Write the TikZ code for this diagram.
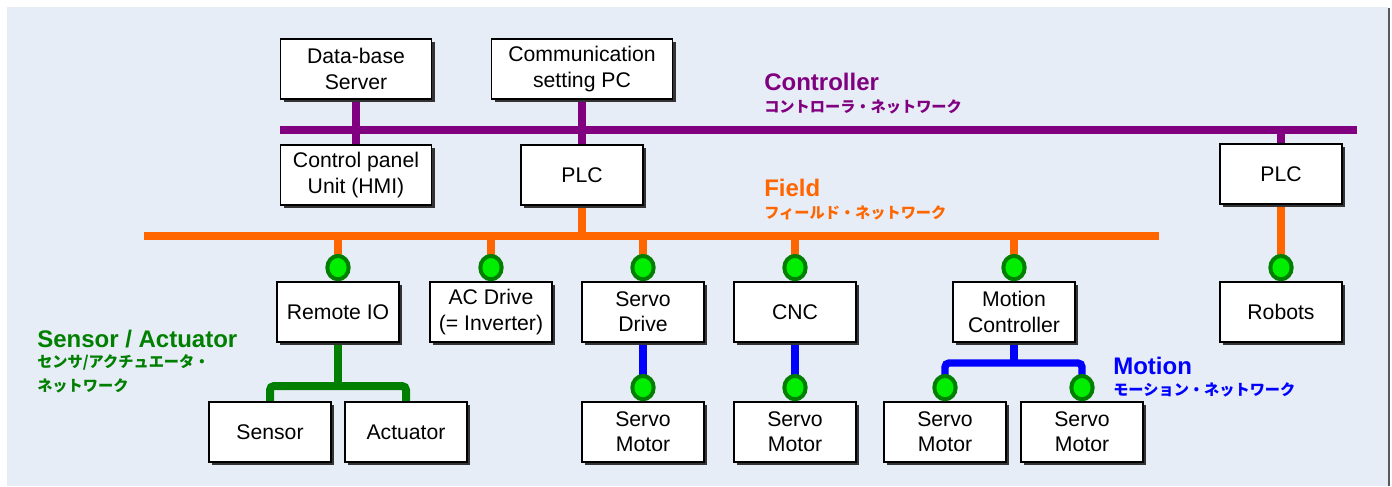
\documentclass[tikz,border=0pt]{standalone}
\usepackage{fontspec}
\setmainfont{Liberation Sans}
\newfontfamily\jpfont{Noto Sans CJK JP}
\usepackage{tikz}
\usetikzlibrary{
    shapes.geometric,
    positioning,
    shadows,
    backgrounds
}
\definecolor{panelbg}{HTML}{E6EDF7}
\definecolor{ctlcol}{HTML}{800080}
\definecolor{fldcol}{HTML}{FF6600}
\definecolor{sencol}{HTML}{007F00}
\definecolor{motcol}{HTML}{0000FF}
\definecolor{portcol}{HTML}{00EE00}
\tikzset{
    unit/.style = {
        rectangle,
        draw,
        line width=1.1pt,
        fill=white,
        minimum width=91.5pt,
        minimum height=45pt,
        inner sep=2pt,
        align=center,
        font=\fontsize{15.9pt}{19pt}\selectfont,
        drop shadow={shadow xshift=2.6pt, shadow yshift=-2.6pt, fill=black!80, opacity=1}
    },
    port/.style = {
        ellipse,
        draw=sencol,
        line width=3pt,
        fill=portcol,
        minimum width=16pt,
        minimum height=17.5pt,
        inner sep=0pt
    },
    netname/.style = {
        anchor=west,
        inner sep=0pt,
        font=\fontsize{18pt}{21pt}\selectfont\bfseries
    },
    netjp/.style = {
        anchor=west,
        inner sep=0pt,
        align=left,
        font=\fontsize{11.4pt}{18pt}\selectfont\jpfont\bfseries
    },
    ctlbus/.style = {draw=ctlcol, line width=6pt},
    ctllink/.style = {draw=ctlcol, line width=5.5pt},
    fldbus/.style = {draw=fldcol, line width=6pt},
    fldlink/.style = {draw=fldcol, line width=5.5pt},
    senlink/.style = {draw=sencol, line width=6pt},
    motlink/.style = {draw=motcol, line width=5.5pt}
}
\begin{document}
\begin{tikzpicture}[x=0.75pt, y=-0.75pt]
\useasboundingbox (0,0) rectangle (1392,486);
\begin{scope}[on background layer]
\fill[panelbg] (7,7) rectangle (1388,486);
\draw[black!65, line width=2pt] (1389,8) -- (1389,486);
\end{scope}

\node[unit, minimum width=113pt] (dbs) at (356,69) {Data-base\\Server};
\node[unit, minimum width=136pt] (cpc) at (582,69) {Communication\\setting PC};
\node[unit, minimum width=113pt] (hmi) at (356,175) {Control panel\\Unit (HMI)};
\node[unit] (plc) at (582,175) {PLC};
\node[unit] (plc-r) at (1281,174) {PLC};

\node[unit] (rio) at (338,312) {Remote IO};
\node[unit] (acd) at (491,312) {AC Drive\\(= Inverter)};
\node[unit] (sdr) at (643,312) {Servo\\Drive};
\node[unit] (cnc) at (795,312) {CNC};
\node[unit] (mct) at (1014,312) {Motion\\Controller};
\node[unit] (rob) at (1281,312) {Robots};

\node[unit] (sen) at (270,432) {Sensor};
\node[unit] (act) at (406,432) {Actuator};
\node[unit] (sm-a) at (643,432) {Servo\\Motor};
\node[unit] (sm-b) at (795,432) {Servo\\Motor};
\node[unit] (sm-c) at (945,432) {Servo\\Motor};
\node[unit] (sm-d) at (1082,432) {Servo\\Motor};

\foreach \u in {rio,acd,sdr,cnc,mct,rob,sm-a,sm-b,sm-c,sm-d}
    \node[port, above=0pt of \u] (\u-p) {};

\node[netname, text=ctlcol] (ctl-name) at (764,82) {Controller};
\node[netjp, text=ctlcol] (ctl-jp) at (764,107) {コントローラ・ネットワーク};
\node[netname, text=fldcol] (fld-name) at (764,188) {Field};
\node[netjp, text=fldcol] (fld-jp) at (764,213) {フィールド・ネットワーク};
\node[netname, text=sencol] (sen-name) at (37,339) {Sensor / Actuator};
\node[netjp, text=sencol, anchor=north west] (sen-jp) at (37,354) {センサ/アクチュエータ・\\ネットワーク};
\node[netname, text=motcol] (mot-name) at (1113,366) {Motion};
\node[netjp, text=motcol] (mot-jp) at (1113,390) {モーション・ネットワーク};

\coordinate (ctl-w) at (280,130);
\coordinate (ctl-e) at (1357,130);
\coordinate (fld-w) at (144,236);
\coordinate (fld-e) at (1159,236);
\coordinate (sa-j) at (338,386);
\coordinate (mo-j) at (1014,363);

\begin{scope}[on background layer]
\draw[ctlbus] (ctl-w) -- (ctl-e);
\draw[ctllink] (dbs) -- (hmi);
\draw[ctllink] (cpc) -- (plc);
\draw[ctllink] (plc-r) -- (plc-r |- ctl-e);

\draw[fldbus] (fld-w) -- (fld-e);
\draw[fldlink] (plc) -- (plc |- fld-w);
\foreach \u in {rio,acd,sdr,cnc,mct}
    \draw[fldlink] (\u-p.center) -- (\u-p |- fld-w);
\draw[fldlink] (plc-r) -- (rob-p.center);

\draw[senlink] (rio) -- (sa-j);
\draw[senlink, rounded corners=3pt] (sen.north) |- (sa-j) -| (act.north);

\draw[motlink] (sdr) -- (sm-a-p.center);
\draw[motlink] (cnc) -- (sm-b-p.center);
\draw[motlink] (mct) -- (mo-j);
\draw[motlink, rounded corners=3pt] (sm-c-p.center) |- (mo-j) -| (sm-d-p.center);
\end{scope}
\end{tikzpicture}
\end{document}
